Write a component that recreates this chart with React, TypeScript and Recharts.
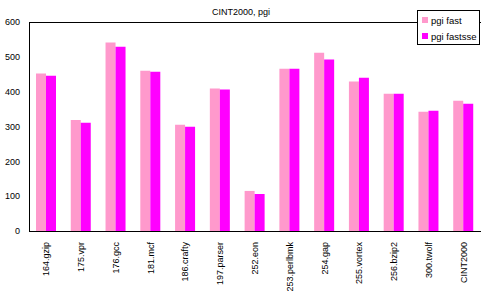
import React from 'react'
import {
  BarChart, Bar, XAxis, YAxis, CartesianGrid,
} from 'recharts'

const benchmarks = [
  '164.gzip', '175.vpr', '176.gcc', '181.mcf', '186.crafty', '197.parser', '252.eon',
  '253.perlbmk', '254.gap', '255.vortex', '256.bzip2', '300.twolf', 'CINT2000',
]
const pgiFast = [452, 319, 541, 460, 305, 409, 115, 466, 512, 429, 394, 342, 374]
const pgiFastsse = [446, 311, 529, 457, 299, 406, 106, 466, 492, 440, 394, 345, 365]
const yTicks = [0, 100, 200, 300, 400, 500, 600]

const FONT = 'Arial, "Liberation Sans", sans-serif'
const PINK = '#FF99CC'
const MAGENTA = '#FF00FF'

const data = benchmarks.map((name, i) => ({
  name,
  fast: pgiFast[i],
  fastsse: pgiFastsse[i],
}))

const legendItems = [
  { label: 'pgi fast', color: PINK },
  { label: 'pgi fastsse', color: MAGENTA },
]

function XTick({ x, y, payload }: any) {
  const ty = y + 3
  return (
    <text
      x={x}
      y={ty}
      transform={`rotate(-90, ${x}, ${ty})`}
      textAnchor="end"
      dominantBaseline="central"
      fontSize={9}
      fontFamily={FONT}
      fill="#000"
    >
      {payload.value}
    </text>
  )
}

export default function App() {
  return (
    <div style={{ position: 'absolute', left: 0, top: 0, width: 485, height: 300, background: '#fff' }}>
      <div style={{
        position: 'absolute', left: 0, top: 7, width: 482, textAlign: 'center',
        fontFamily: FONT, fontSize: 9, color: '#000',
      }}>
        CINT2000, pgi
      </div>
      <BarChart
        width={485}
        height={300}
        data={data}
        margin={{ top: 22, right: 4, left: 0, bottom: 0 }}
        barGap={0}
        barSize={10}
      >
        <CartesianGrid horizontal vertical={false} stroke="#000" strokeWidth={1} shapeRendering="crispEdges" />
        <XAxis
          dataKey="name"
          interval={0}
          height={69}
          tickLine={false}
          axisLine={{ stroke: '#000', shapeRendering: 'crispEdges' }}
          tick={<XTick />}
          tickSize={6}
          tickMargin={2}
        />
        <YAxis
          yAxisId="left"
          domain={[0, 600]}
          ticks={yTicks}
          width={29}
          tickLine={false}
          axisLine={{ stroke: '#000', shapeRendering: 'crispEdges' }}
          tick={{ fontSize: 9, fontFamily: FONT, fill: '#000' }}
          tickMargin={3}
        />
        <YAxis
          yAxisId="right"
          orientation="right"
          domain={[0, 600]}
          width={0}
          tick={false}
          tickLine={false}
          axisLine={{ stroke: '#000', shapeRendering: 'crispEdges' }}
        />
        <Bar yAxisId="left" dataKey="fast" name="pgi fast" fill={PINK} isAnimationActive={false} />
        <Bar yAxisId="left" dataKey="fastsse" name="pgi fastsse" fill={MAGENTA} isAnimationActive={false} />
      </BarChart>
      <div style={{
        position: 'absolute', left: 417, top: 10, width: 61, height: 33,
        border: '1px solid #000', background: '#fff',
        fontFamily: FONT, fontSize: 9.5, color: '#000',
      }}>
        {legendItems.map((it, i) => (
          <div key={it.label} style={{
            position: 'absolute', left: 4, top: 4 + i * 16, height: 10,
            display: 'flex', alignItems: 'center', whiteSpace: 'nowrap',
          }}>
            <span style={{ width: 6, height: 6, background: it.color, display: 'inline-block', marginRight: 3 }} />
            <span>{it.label}</span>
          </div>
        ))}
      </div>
    </div>
  )
}
